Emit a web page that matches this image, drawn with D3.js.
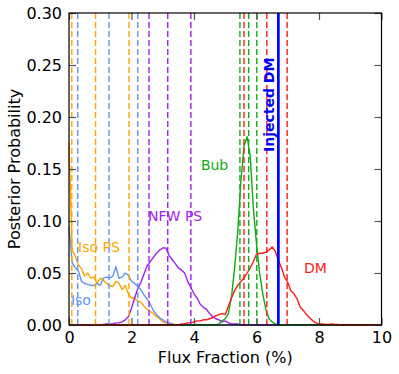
<!DOCTYPE html>
<html>
<head>
<meta charset="utf-8">
<script src="https://cdn.jsdelivr.net/npm/d3@7"></script>
<style>
  body { margin: 0; background: #fff; }
  text { font-family: "DejaVu Sans", sans-serif; }
</style>
</head>
<body>
<svg id="plot"></svg>
<script>
// histogram bins are 0.1 % wide, each series lists values from its first bin
const binStep = 0.1;

const isoPSStart = 0.0;
const isoPS = [0.175, 0.072, 0.066, 0.058, 0.054, 0.047, 0.050, 0.045, 0.046, 0.040,
  0.045, 0.043, 0.040, 0.038, 0.037, 0.042, 0.040, 0.034, 0.038, 0.030,
  0.026, 0.026, 0.023, 0.022, 0.018, 0.015, 0.013, 0.011, 0.008, 0.006,
  0.003, 0.002, 0.001, 0.001, 0.0];

const isoStart = 0.0;
const iso = [0.095, 0.060, 0.055, 0.052, 0.042, 0.040, 0.039, 0.038, 0.038, 0.040,
  0.038, 0.045, 0.046, 0.045, 0.047, 0.056, 0.045, 0.046, 0.050, 0.048,
  0.042, 0.040, 0.037, 0.034, 0.029, 0.025, 0.020, 0.014, 0.010, 0.007,
  0.005, 0.003, 0.002, 0.001, 0.0];

const nfwStart = 1.0;
const nfwPS = [0.0, 0.0005, 0.001, 0.001, 0.001, 0.002, 0.002, 0.003, 0.005, 0.008,
  0.016, 0.026, 0.035, 0.041, 0.049, 0.057, 0.061, 0.065, 0.069, 0.072,
  0.074, 0.074, 0.067, 0.063, 0.059, 0.055, 0.053, 0.050, 0.042, 0.036,
  0.030, 0.026, 0.020, 0.017, 0.015, 0.011, 0.008, 0.006, 0.005, 0.003,
  0.004, 0.002, 0.001, 0.001, 0.001, 0.0];

const bubStart = 4.7;
const bub = [0.0, 0.001, 0.004, 0.006, 0.011, 0.027, 0.055, 0.090, 0.138, 0.172,
  0.181, 0.162, 0.112, 0.078, 0.050, 0.030, 0.015, 0.006, 0.003, 0.001, 0.0];

const dmStart = 3.5;
const dm = [0.0, 0.001, 0.001, 0.002, 0.002, 0.003, 0.004, 0.004, 0.005, 0.005,
  0.006, 0.007, 0.009, 0.010, 0.011, 0.010, 0.018, 0.026, 0.033, 0.038,
  0.042, 0.045, 0.050, 0.055, 0.061, 0.068, 0.069, 0.069, 0.070, 0.072,
  0.075, 0.071, 0.062, 0.055, 0.046, 0.041, 0.033, 0.030, 0.025, 0.017,
  0.014, 0.010, 0.007, 0.004, 0.002, 0.001, 0.001, 0.0005, 0.0005, 0.001,
  0.0005, 0.0005, 0.0];

// credible-interval markers (dashed) and the injected value
const isoPSMarks = [0.09, 0.85, 1.92];
const isoMarks = [0.28, 1.28, 2.2];
const nfwMarks = [2.56, 3.16, 3.9];
const bubMarks = [5.47, 5.75, 6.01];
const dmMarks = [5.6, 6.33, 6.98];
const injectedDM = 6.7;

const xTicks = [0, 2, 4, 6, 8, 10];
const yTicks = [0.0, 0.05, 0.10, 0.15, 0.20, 0.25, 0.30];

let dimensions = {
  width: 399,
  height: 374,
  left: 69,
  top: 13,
  right: 381.5,
  bottom: 325,
};

const colors = {
  isoPS: "#ffa500",
  iso: "#6495ed",
  nfw: "#a020f0",
  bub: "#11aa11",
  dm: "#ff1a1a",
  inj: "#0000ff",
};

const svg = d3.select("#plot")
  .attr("width", dimensions.width)
  .attr("height", dimensions.height);

const xScale = d3.scaleLinear().domain([0, 10]).range([dimensions.left, dimensions.right]);
const yScale = d3.scaleLinear().domain([0, 0.3]).range([dimensions.bottom, dimensions.top]);

// pad each series with zeros so the line runs along the floor from 0 to 10
var toPoints = function (start, vals) {
  let pts = [];
  let n0 = Math.round(start / binStep);
  for (let i = 0; i < n0; i++) pts.push([i * binStep, 0]);
  vals.forEach((v, i) => pts.push([(n0 + i) * binStep, v]));
  let last = n0 + vals.length;
  for (let i = last; i <= 100; i++) pts.push([i * binStep, 0]);
  return pts;
};

const line = d3.line()
  .x(d => xScale(d[0]))
  .y(d => yScale(d[1]));

const plotArea = svg.append("g");

const series = [
  { pts: toPoints(isoPSStart, isoPS), color: colors.isoPS },
  { pts: toPoints(isoStart, iso), color: colors.iso },
  { pts: toPoints(nfwStart, nfwPS), color: colors.nfw },
  { pts: toPoints(bubStart, bub), color: colors.bub },
  { pts: toPoints(dmStart, dm), color: colors.dm },
];

plotArea.selectAll("path.curve")
  .data(series)
  .join("path")
  .attr("class", "curve")
  .attr("d", d => line(d.pts))
  .attr("fill", "none")
  .attr("stroke", d => d.color)
  .attr("stroke-width", 1.4)
  .attr("stroke-linejoin", "round");

const marks = [];
isoPSMarks.forEach(v => marks.push({ v: v, color: colors.isoPS }));
isoMarks.forEach(v => marks.push({ v: v, color: colors.iso }));
nfwMarks.forEach(v => marks.push({ v: v, color: colors.nfw }));
bubMarks.forEach(v => marks.push({ v: v, color: colors.bub }));
dmMarks.forEach(v => marks.push({ v: v, color: colors.dm }));

plotArea.selectAll("line.mark")
  .data(marks)
  .join("line")
  .attr("class", "mark")
  .attr("x1", d => xScale(d.v))
  .attr("x2", d => xScale(d.v))
  .attr("y1", yScale(0))
  .attr("y2", yScale(0.3))
  .attr("stroke", d => d.color)
  .attr("stroke-width", 1.4)
  .attr("stroke-dasharray", "6,3");

plotArea.append("line")
  .attr("x1", xScale(injectedDM))
  .attr("x2", xScale(injectedDM))
  .attr("y1", yScale(0))
  .attr("y2", yScale(0.3))
  .attr("stroke", colors.inj)
  .attr("stroke-width", 2.7);

// axes, ticks pointing inward
const tickLen = 7;
const xAxis = svg.append("g")
  .attr("transform", `translate(0, ${dimensions.bottom})`)
  .call(d3.axisBottom(xScale).tickValues(xTicks).tickSize(-tickLen).tickSizeOuter(0).tickPadding(7).tickFormat(d3.format("d")));
const yAxis = svg.append("g")
  .attr("transform", `translate(${dimensions.left}, 0)`)
  .call(d3.axisLeft(yScale).tickValues(yTicks).tickSize(-tickLen).tickSizeOuter(0).tickPadding(7).tickFormat(d3.format(".2f")));
const topAxis = svg.append("g")
  .attr("transform", `translate(0, ${dimensions.top})`)
  .call(d3.axisTop(xScale).tickValues(xTicks).tickSize(-tickLen).tickSizeOuter(0).tickFormat(""));
const rightAxis = svg.append("g")
  .attr("transform", `translate(${dimensions.right}, 0)`)
  .call(d3.axisRight(yScale).tickValues(yTicks).tickSize(-tickLen).tickSizeOuter(0).tickFormat(""));

[xAxis, yAxis, topAxis, rightAxis].forEach(a => {
  a.select(".domain").remove();
  a.selectAll(".tick line").attr("stroke", "#555").attr("stroke-width", 1.2);
  a.selectAll("text").attr("font-size", 16).attr("fill", "#000")
    .style("font-family", "'DejaVu Sans', sans-serif");
});

// frame
svg.append("rect")
  .attr("x", dimensions.left)
  .attr("y", dimensions.top)
  .attr("width", dimensions.right - dimensions.left)
  .attr("height", dimensions.bottom - dimensions.top)
  .attr("fill", "none")
  .attr("stroke", "#000")
  .attr("stroke-width", 1.2);

// axis titles
svg.append("text")
  .attr("x", (dimensions.left + dimensions.right) / 2)
  .attr("y", 363)
  .attr("text-anchor", "middle")
  .attr("font-size", 16)
  .text("Flux Fraction (%)");

svg.append("text")
  .attr("transform", `translate(20, ${(dimensions.top + dimensions.bottom) / 2}) rotate(-90)`)
  .attr("text-anchor", "middle")
  .attr("font-size", 16)
  .text("Posterior Probability");

// series labels
const labels = [
  { text: "Iso PS", x: 0.29, y: 0.070, color: colors.isoPS },
  { text: "Iso", x: 0.06, y: 0.019, color: colors.iso },
  { text: "NFW PS", x: 2.53, y: 0.100, color: colors.nfw },
  { text: "Bub", x: 4.22, y: 0.1495, color: colors.bub },
  { text: "DM", x: 7.52, y: 0.050, color: colors.dm },
];

svg.selectAll("text.label")
  .data(labels)
  .join("text")
  .attr("class", "label")
  .attr("x", d => xScale(d.x))
  .attr("y", d => yScale(d.y))
  .attr("font-size", 14)
  .attr("fill", d => d.color)
  .text(d => d.text);

svg.append("text")
  .attr("transform", `translate(${xScale(6.56)}, ${yScale(0.1663)}) rotate(-90)`)
  .attr("font-size", 14)
  .attr("font-weight", "bold")
  .attr("fill", colors.inj)
  .text("Injected DM");
</script>
</body>
</html>
